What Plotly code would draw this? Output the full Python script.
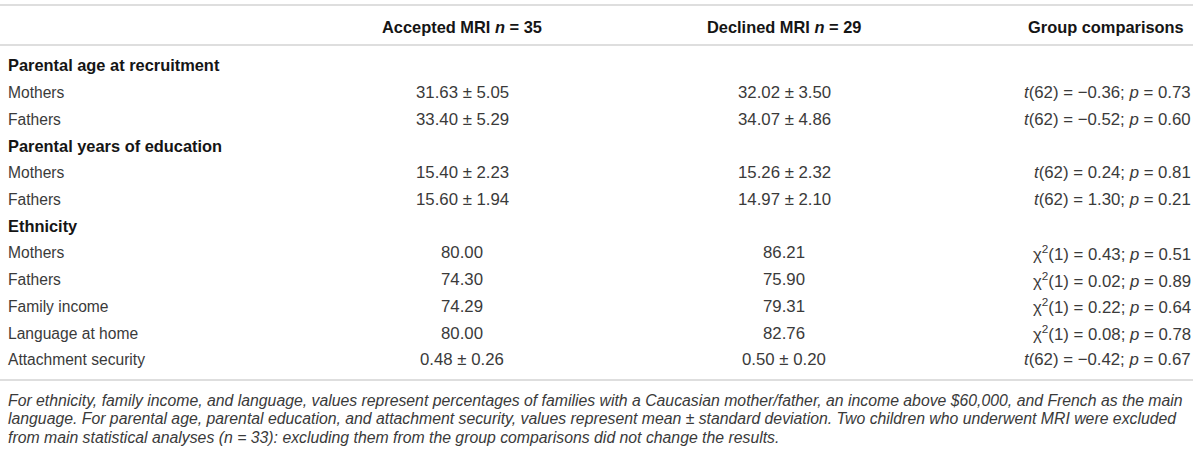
import plotly.graph_objects as go

# ---- data ----
col_headers = ["Accepted MRI <i>n</i> = 35", "Declined MRI <i>n</i> = 29", "Group comparisons"]
row_labels = ["Parental age at recruitment", "Mothers", "Fathers",
              "Parental years of education", "Mothers", "Fathers",
              "Ethnicity", "Mothers", "Fathers",
              "Family income", "Language at home", "Attachment security"]
is_section = [True, False, False, True, False, False, True, False, False, False, False, False]
accepted = ["", "31.63 ± 5.05", "33.40 ± 5.29",
            "", "15.40 ± 2.23", "15.60 ± 1.94",
            "", "80.00", "74.30", "74.29", "80.00", "0.48 ± 0.26"]
declined = ["", "32.02 ± 3.50", "34.07 ± 4.86",
            "", "15.26 ± 2.32", "14.97 ± 2.10",
            "", "86.21", "75.90", "79.31", "82.76", "0.50 ± 0.20"]
comparisons = ["", "<i>t</i>(62) = −0.36; <i>p</i> = 0.73", "<i>t</i>(62) = −0.52; <i>p</i> = 0.60",
               "", "<i>t</i>(62) = 0.24; <i>p</i> = 0.81", "<i>t</i>(62) = 1.30; <i>p</i> = 0.21",
               "", "χ<sup>2</sup>(1) = 0.43; <i>p</i> = 0.51", "χ<sup>2</sup>(1) = 0.02; <i>p</i> = 0.89",
               "χ<sup>2</sup>(1) = 0.22; <i>p</i> = 0.64", "χ<sup>2</sup>(1) = 0.08; <i>p</i> = 0.78",
               "<i>t</i>(62) = −0.42; <i>p</i> = 0.67"]
footnote_lines = [
    "For ethnicity, family income, and language, values represent percentages of families with a Caucasian mother/father, an income above $60,000, and French as the main",
    "language. For parental age, parental education, and attachment security, values represent mean ± standard deviation. Two children who underwent MRI were excluded",
    "from main statistical analyses (<i>n</i> = 33): excluding them from the group comparisons did not change the results.",
]

# ---- layout constants (pixel-like x axis, row-index y axis) ----
W, H = 1200, 454
ROW0, ROWH = 66.0, 26.7          # pixel y of row 0 and row pitch
def row_of(py):
    return (py - ROW0) / ROWH

X_LABEL = 6
X_ACC = 462
X_DEC = 784
X_CMP = 1193
LINE_X0, LINE_X1 = 0, 1193

FAM = "Liberation Sans, Arial, sans-serif"
LABEL = dict(family=FAM, size=15.6, color="#3a3a3a")
VALUE = dict(family=FAM, size=16.8, color="#3a3a3a")
BOLD = dict(family=FAM, size=16.4, color="#151515")
NOTE = dict(family=FAM, size=15.8, color="#3a3a3a")

fig = go.Figure()
fig.add_trace(go.Scatter(x=[0, W], y=[row_of(0), row_of(H)], mode="markers",
                         marker=dict(opacity=0), hoverinfo="skip", showlegend=False))

ann = []
HEADER_ROW = row_of(27)
ann.append(dict(x=X_ACC, y=HEADER_ROW, text="<b>" + col_headers[0] + "</b>", xanchor="center", font=BOLD))
ann.append(dict(x=X_DEC, y=HEADER_ROW, text="<b>" + col_headers[1] + "</b>", xanchor="center", font=BOLD))
ann.append(dict(x=1186, y=HEADER_ROW, text="<b>" + col_headers[2] + "</b>", xanchor="right", font=BOLD))

for i, lab in enumerate(row_labels):
    yy = row_of(65) if i == 0 else i
    if is_section[i]:
        ann.append(dict(x=X_LABEL, y=yy, text="<b>" + lab + "</b>", xanchor="left", font=BOLD))
    else:
        ann.append(dict(x=X_LABEL, y=yy, text=lab, xanchor="left", font=LABEL))
    if accepted[i]:
        ann.append(dict(x=X_ACC, y=yy, text=accepted[i], xanchor="center", font=VALUE))
    if declined[i]:
        ann.append(dict(x=X_DEC, y=yy, text=declined[i], xanchor="center", font=VALUE))
    if comparisons[i]:
        ann.append(dict(x=X_CMP, y=yy, text=comparisons[i], xanchor="right", font=VALUE))

foot_y = [400, 418.5, 437]
for k, line in enumerate(footnote_lines):
    ann.append(dict(x=X_LABEL, y=row_of(foot_y[k]), text="<i>" + line + "</i>", xanchor="left", font=NOTE))

for a in ann:
    a.update(xref="x", yref="y", showarrow=False, yanchor="middle")

shapes = []
for py in [5, 45, 380]:
    shapes.append(dict(type="line", xref="x", yref="y", x0=LINE_X0, x1=LINE_X1,
                       y0=row_of(py), y1=row_of(py), line=dict(color="#dedede", width=2)))

fig.update_layout(
    width=W, height=H,
    margin=dict(l=0, r=0, t=0, b=0),
    paper_bgcolor="white", plot_bgcolor="white",
    xaxis=dict(range=[0, W], visible=False, fixedrange=True),
    yaxis=dict(range=[row_of(H), row_of(0)], visible=False, fixedrange=True),
    annotations=ann, shapes=shapes, showlegend=False,
)
fig.write_html("out.html", config={"displayModeBar": False},
               post_script="document.body.style.margin='0px';document.body.style.overflow='hidden';")
